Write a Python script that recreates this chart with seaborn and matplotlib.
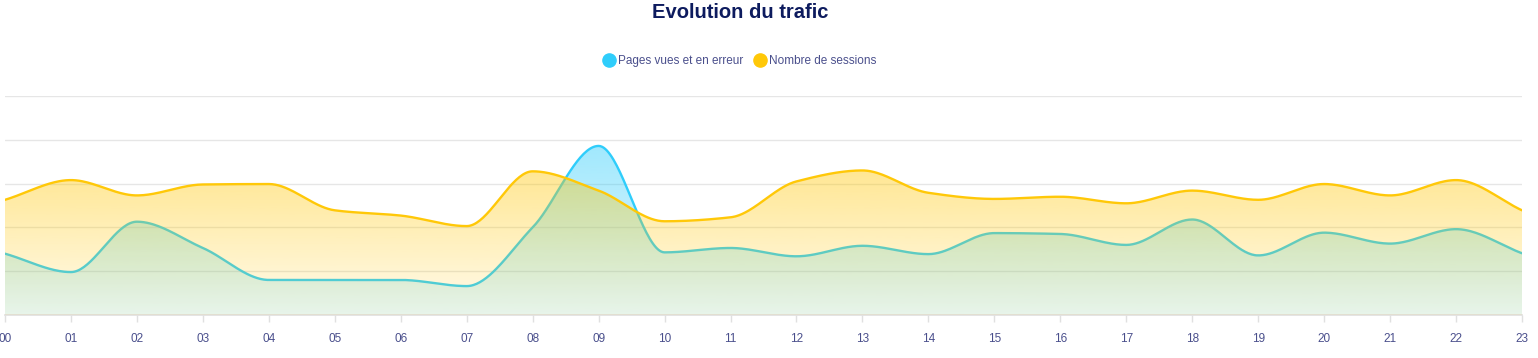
import matplotlib
matplotlib.use('Agg')
import matplotlib.pyplot as plt
import numpy as np
import pandas as pd
import seaborn as sns
from matplotlib.colors import to_rgb
from matplotlib.lines import Line2D

hours = ['%02d' % h for h in range(24)]
sessions = [263, 308, 273, 298, 299, 239, 227, 203, 328, 284, 214, 223,
            305, 330, 279, 265, 270, 255, 284, 263, 299, 273, 308, 239]
pages_err = [140, 98, 213, 153, 80, 80, 80, 66, 200, 386, 143, 153,
             134, 158, 139, 187, 185, 160, 218, 136, 188, 163, 196, 141]

YMAX = 500
CYAN = '#2fcdfb'
YELLOW = '#ffc808'
TXT = '#4a4f8c'


def monotone(y, n=40):
    """ Fritsch-Carlson monotone cubic, same look as the web chart """
    y = np.asarray(y, float)
    x = np.arange(len(y), dtype=float)
    d = np.diff(y)
    m = np.zeros_like(y)
    m[0], m[-1] = d[0], d[-1]
    for i in range(1, len(y) - 1):
        if d[i - 1] * d[i] <= 0:
            m[i] = 0
        else:
            m[i] = 2 / (1 / d[i - 1] + 1 / d[i])
    xs, ys = [], []
    for i in range(len(y) - 1):
        t = np.linspace(0, 1, n, endpoint=False)
        h00 = 2 * t**3 - 3 * t**2 + 1
        h10 = t**3 - 2 * t**2 + t
        h01 = -2 * t**3 + 3 * t**2
        h11 = t**3 - t**2
        xs.append(x[i] + t)
        ys.append(h00 * y[i] + h10 * m[i] + h01 * y[i + 1] + h11 * m[i + 1])
    xs.append([x[-1]])
    ys.append([y[-1]])
    return np.concatenate(xs), np.concatenate(ys)


def gradient_fill(ax, xs, ys, color, a_top, a_bot, zorder):
    poly = ax.fill_between(xs, 0, ys, facecolor='none', edgecolor='none')
    img = np.zeros((256, 1, 4))
    img[:, 0, :3] = to_rgb(color)
    img[:, 0, 3] = np.linspace(a_top, a_bot, 256)
    im = ax.imshow(img, aspect='auto', origin='upper', zorder=zorder,
                   extent=[xs.min(), xs.max(), 0, YMAX], interpolation='bilinear')
    im.set_clip_path(poly.get_paths()[0], transform=ax.transData)


sns.set_theme(style='white')
plt.rcParams['font.family'] = ['Liberation Sans', 'DejaVu Sans']

fig = plt.figure(figsize=(15.38, 3.58), dpi=100)
ax = fig.add_axes([5 / 1538, 1 - 315 / 358, 1517 / 1538, 219 / 358])

xp, yp = monotone(pages_err)
xs_, ys_ = monotone(sessions)

gradient_fill(ax, xp, yp, CYAN, 0.55, 0.12, 1)
sns.lineplot(x=xp, y=yp, color=CYAN, linewidth=1.7, ax=ax, zorder=2, sort=False)
gradient_fill(ax, xs_, ys_, YELLOW, 0.62, 0.08, 3)
sns.lineplot(x=xs_, y=ys_, color=YELLOW, linewidth=1.7, ax=ax, zorder=4, sort=False)

ax.set_xlim(0, 23)
ax.set_ylim(0, YMAX)
ax.set_yticks(np.arange(0, YMAX + 1, 100))
ax.yaxis.grid(True, color='#e6e6e6', linewidth=1)
ax.set_axisbelow(True)
ax.tick_params(axis='y', left=False, labelleft=False)
ax.set_xticks(range(24))
ax.set_xticklabels(hours)
ax.tick_params(axis='x', bottom=True, length=5, width=1, color='#e0e0e0',
               labelsize=8.5, labelcolor=TXT, pad=8)
for s in ('top', 'left', 'right'):
    ax.spines[s].set_visible(False)
ax.spines['bottom'].set_color('#e0e0e0')
ax.set_xlabel('')
ax.set_ylabel('')

fig.text(0.481, 1 - 12 / 358, 'Evolution du trafic', ha='center', va='center',
         fontsize=14.5, fontweight='bold', color='#0d1b5e')

handles = [Line2D([], [], marker='o', linestyle='', markersize=9.5, color=CYAN),
           Line2D([], [], marker='o', linestyle='', markersize=9.5, color=YELLOW)]
leg = fig.legend(handles, ['Pages vues et en erreur', 'Nombre de sessions'],
                 loc='center', bbox_to_anchor=(0.481, 1 - 61 / 358), ncol=2,
                 frameon=False, fontsize=8.5, handletextpad=0.3, columnspacing=0.9,
                 handlelength=1.0)
for t in leg.get_texts():
    t.set_color(TXT)

fig.savefig('out.png', dpi=100)
